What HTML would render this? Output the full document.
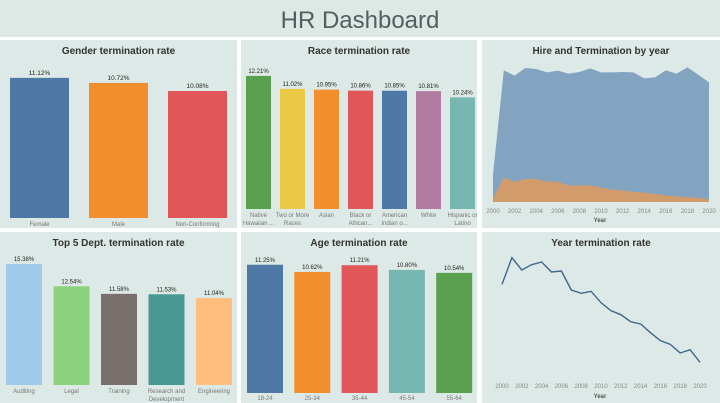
<!DOCTYPE html>
<html><head><meta charset="utf-8">
<style>
html,body{margin:0;padding:0;background:#fff;}
body{width:720px;height:403px;overflow:hidden;font-family:"Liberation Sans",sans-serif;}
svg{display:block}
</style></head>
<body>
<svg id="c" width="720" height="403">
<rect x="0" y="0" width="720" height="403" fill="#ffffff"/>
<rect x="0" y="0" width="720" height="37" fill="#dce9e5"/>
<text x="360" y="28" text-anchor="middle" font-size="24" fill="#555d60">HR Dashboard</text>
</svg>
<script>
const genderCats=["Female","Male","Non-Conforming"];
const genderVals=[11.12,10.72,10.08];
const raceCats=[["Native","Hawaiian ..."],["Two or More","Races"],["Asian"],["Black or","African..."],["American","Indian o..."],["White"],["Hispanic or","Latino"]];
const raceVals=[12.21,11.02,10.95,10.86,10.85,10.81,10.24];
const deptCats=[["Auditing"],["Legal"],["Training"],["Research and","Development"],["Engineering"]];
const deptVals=[15.38,12.54,11.58,11.53,11.04];
const ageCats=["18-24","25-34","35-44","45-54","55-64"];
const ageVals=[11.25,10.62,11.21,10.80,10.54];
const years=[2000,2001,2002,2003,2004,2005,2006,2007,2008,2009,2010,2011,2012,2013,2014,2015,2016,2017,2018,2019,2020];
const hires=[82,395,379,402,399,389,394,385,390,401,389,389,390,389,371,374,395,385,404,382,359];
const terms=[10,74,60,69,69,61,61,49,50,50,43,37,35,30,28,24,20,17,14,13,7];
const yearRates=[14.35,18.35,16.5,17.3,17.7,16.2,16.35,13.5,13.0,13.3,11.6,10.4,9.8,8.75,8.4,7.1,5.9,5.35,4.05,4.55,2.65];
const yearTicks=[2000,2002,2004,2006,2008,2010,2012,2014,2016,2018,2020];

const svg=document.getElementById('c');
const NS="http://www.w3.org/2000/svg";
function el(tag,attrs,parent){const e=document.createElementNS(NS,tag);for(const k in attrs)e.setAttribute(k,attrs[k]);(parent||svg).appendChild(e);return e;}
function txt(x,y,s,size,fill,parent,anchor,weight){const t=el('text',{x:x,y:y,'font-size':size,fill:fill,'text-anchor':anchor||'middle'},parent);if(weight)t.setAttribute('font-weight',weight);t.textContent=s;return t;}

function panel(x,y,w,h,title,name){
  const g=el('g',{});
  
  
  const r=el('rect',{x:x,y:y,width:w,height:h,fill:'#dde9e6'},g);
  
  
  const t=txt(x+w/2,y+14,title,10,'#333',g,'middle','bold');
  
  
  return g;
}

function barChart(g,name,cats,vals,colors,x0,step,bw,base,scale,labY,lineH,fs){
  vals.forEach((v,i)=>{
    const h=v*scale, x=x0+i*step;
    const b=el('rect',{x:x,y:base-h,width:bw,height:h,fill:colors[i]},g);
    
    
    const l=txt(x+bw/2,base-h-3,v.toFixed(2)+'%',fs,'#222',g);
    
    
    const c=Array.isArray(cats[i])?cats[i]:[cats[i]];
    c.forEach((s,j)=>{
      const t=txt(x+bw/2,labY+j*lineH,s,6,'#777',g);
      
      
    });
  });
}

// Gender
let g=panel(0,40,237,188,'Gender termination rate','gender-panel');
barChart(g,'gender',genderCats,genderVals,['#4e79a7','#f28e2b','#e15759'],10,79,59,218,12.6,226,8,6.5);

// Race
g=panel(241,40,236,188,'Race termination rate','race-panel');
barChart(g,'race',raceCats,raceVals,['#59a14f','#edc948','#f28e2b','#e15759','#4e79a7','#b07aa1','#76b7b2'],246,34,25,209,10.9,217,8,6);

// Dept
g=panel(0,232,237,171,'Top 5 Dept. termination rate','dept-panel');
barChart(g,'dept',deptCats,deptVals,['#a0cbe8','#8cd17d','#79706e','#499894','#ffbe7d'],6,47.5,36,385,7.87,393,8,6);

// Age
g=panel(241,232,236,171,'Age termination rate','age-panel');
barChart(g,'age',ageCats,ageVals,['#4e79a7','#f28e2b','#e15759','#76b7b2','#59a14f'],247,47.3,36,393,11.4,400,8,6);

// Area chart
g=panel(482,40,238,188,'Hire and Termination by year','hire-term-panel');
const ax=y=>493+(y-2000)*(216/20);
const ay=v=>202-v/3;
function areaPath(vals){let d='M'+ax(years[0])+','+ay(0);years.forEach((y,i)=>{d+=' L'+ax(y)+','+ay(vals[i]);});d+=' L'+ax(years[years.length-1])+','+ay(0)+' Z';return d;}
let p=el('path',{d:areaPath(hires),fill:'#82a4c1'},g);


p=el('path',{d:areaPath(terms),fill:'#d29b6c'},g);


yearTicks.forEach(y=>{const t=txt(ax(y),213,String(y),6,'#888',g);});
let t=txt(600,222,'Year',6,'#555',g,'middle','bold');



// Line chart
g=panel(482,232,238,171,'Year termination rate','year-rate-panel');
const lx=y=>502+(y-2000)*(198/20);
const ly=v=>380-v*(150/22.5);
let d='';years.forEach((y,i)=>{d+=(i?' L':'M')+lx(y)+','+ly(yearRates[i]);});
p=el('path',{d:d,fill:'none',stroke:'#3f6690','stroke-width':1.4},g);


yearTicks.forEach(y=>{const t=txt(lx(y),388,String(y),6,'#888',g);});
t=txt(600,398,'Year',6,'#555',g,'middle','bold');


</script>
</body></html>
